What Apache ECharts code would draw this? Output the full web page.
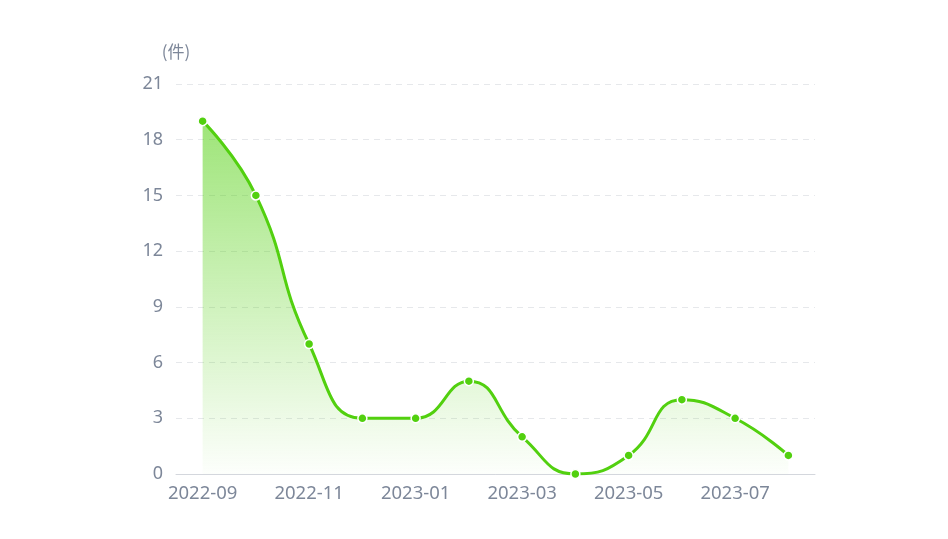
<!DOCTYPE html>
<html><head><meta charset="utf-8">
<script src="https://cdn.jsdelivr.net/npm/echarts@6/dist/echarts.min.js"></script>
<style>html,body{margin:0;padding:0;background:#fff}#c{width:948px;height:539px}</style>
</head><body><div id="c"></div>
<script>
const categories = ['2022-09','2022-10','2022-11','2022-12','2023-01','2023-02','2023-03','2023-04','2023-05','2023-06','2023-07','2023-08'];
const values = [19, 15, 7, 3, 3, 5, 2, 0, 1, 4, 3, 1];
const yMax = 21, yInterval = 3;
const yName = '(件)';

const chart = echarts.init(document.getElementById('c'));
chart.setOption({
  animation: false,
  grid: {left: 176, right: 133, top: 84, bottom: 65},
  xAxis: {
    type: 'category', data: categories, boundaryGap: true,
    axisLine: {lineStyle: {color: '#d4d7dd'}},
    axisTick: {show: false},
    axisLabel: {interval: 1, color: '#7d8799', fontSize: 18.5, margin: 10, fontFamily: 'Noto Sans'}
  },
  yAxis: {
    type: 'value', min: 0, max: yMax, interval: yInterval,
    name: yName, nameGap: 24, nameTextStyle: {color: '#7d8799', fontSize: 17, align: 'center', padding: [0, 0, 0, 0], fontFamily: 'Noto Sans CJK SC'},
    axisLine: {show: false}, axisTick: {show: false},
    axisLabel: {color: '#7d8799', fontSize: 18, margin: 13, fontFamily: 'Noto Sans'},
    splitLine: {lineStyle: {color: '#e6e8eb', type: [6, 5]}}
  },
  series: [{
    type: 'line', data: values, smooth: true,
    symbol: 'circle', symbolSize: 9, showSymbol: true,
    lineStyle: {color: '#52d00f', width: 3},
    itemStyle: {color: '#52d00f', borderColor: '#fff', borderWidth: 1.5},
    areaStyle: {color: new echarts.graphic.LinearGradient(0, 0, 0, 1, [
      {offset: 0, color: 'rgba(82,208,15,0.8)'},
      {offset: 1, color: 'rgba(82,208,15,0.02)'}
    ])}
  }]
});
</script></body></html>
